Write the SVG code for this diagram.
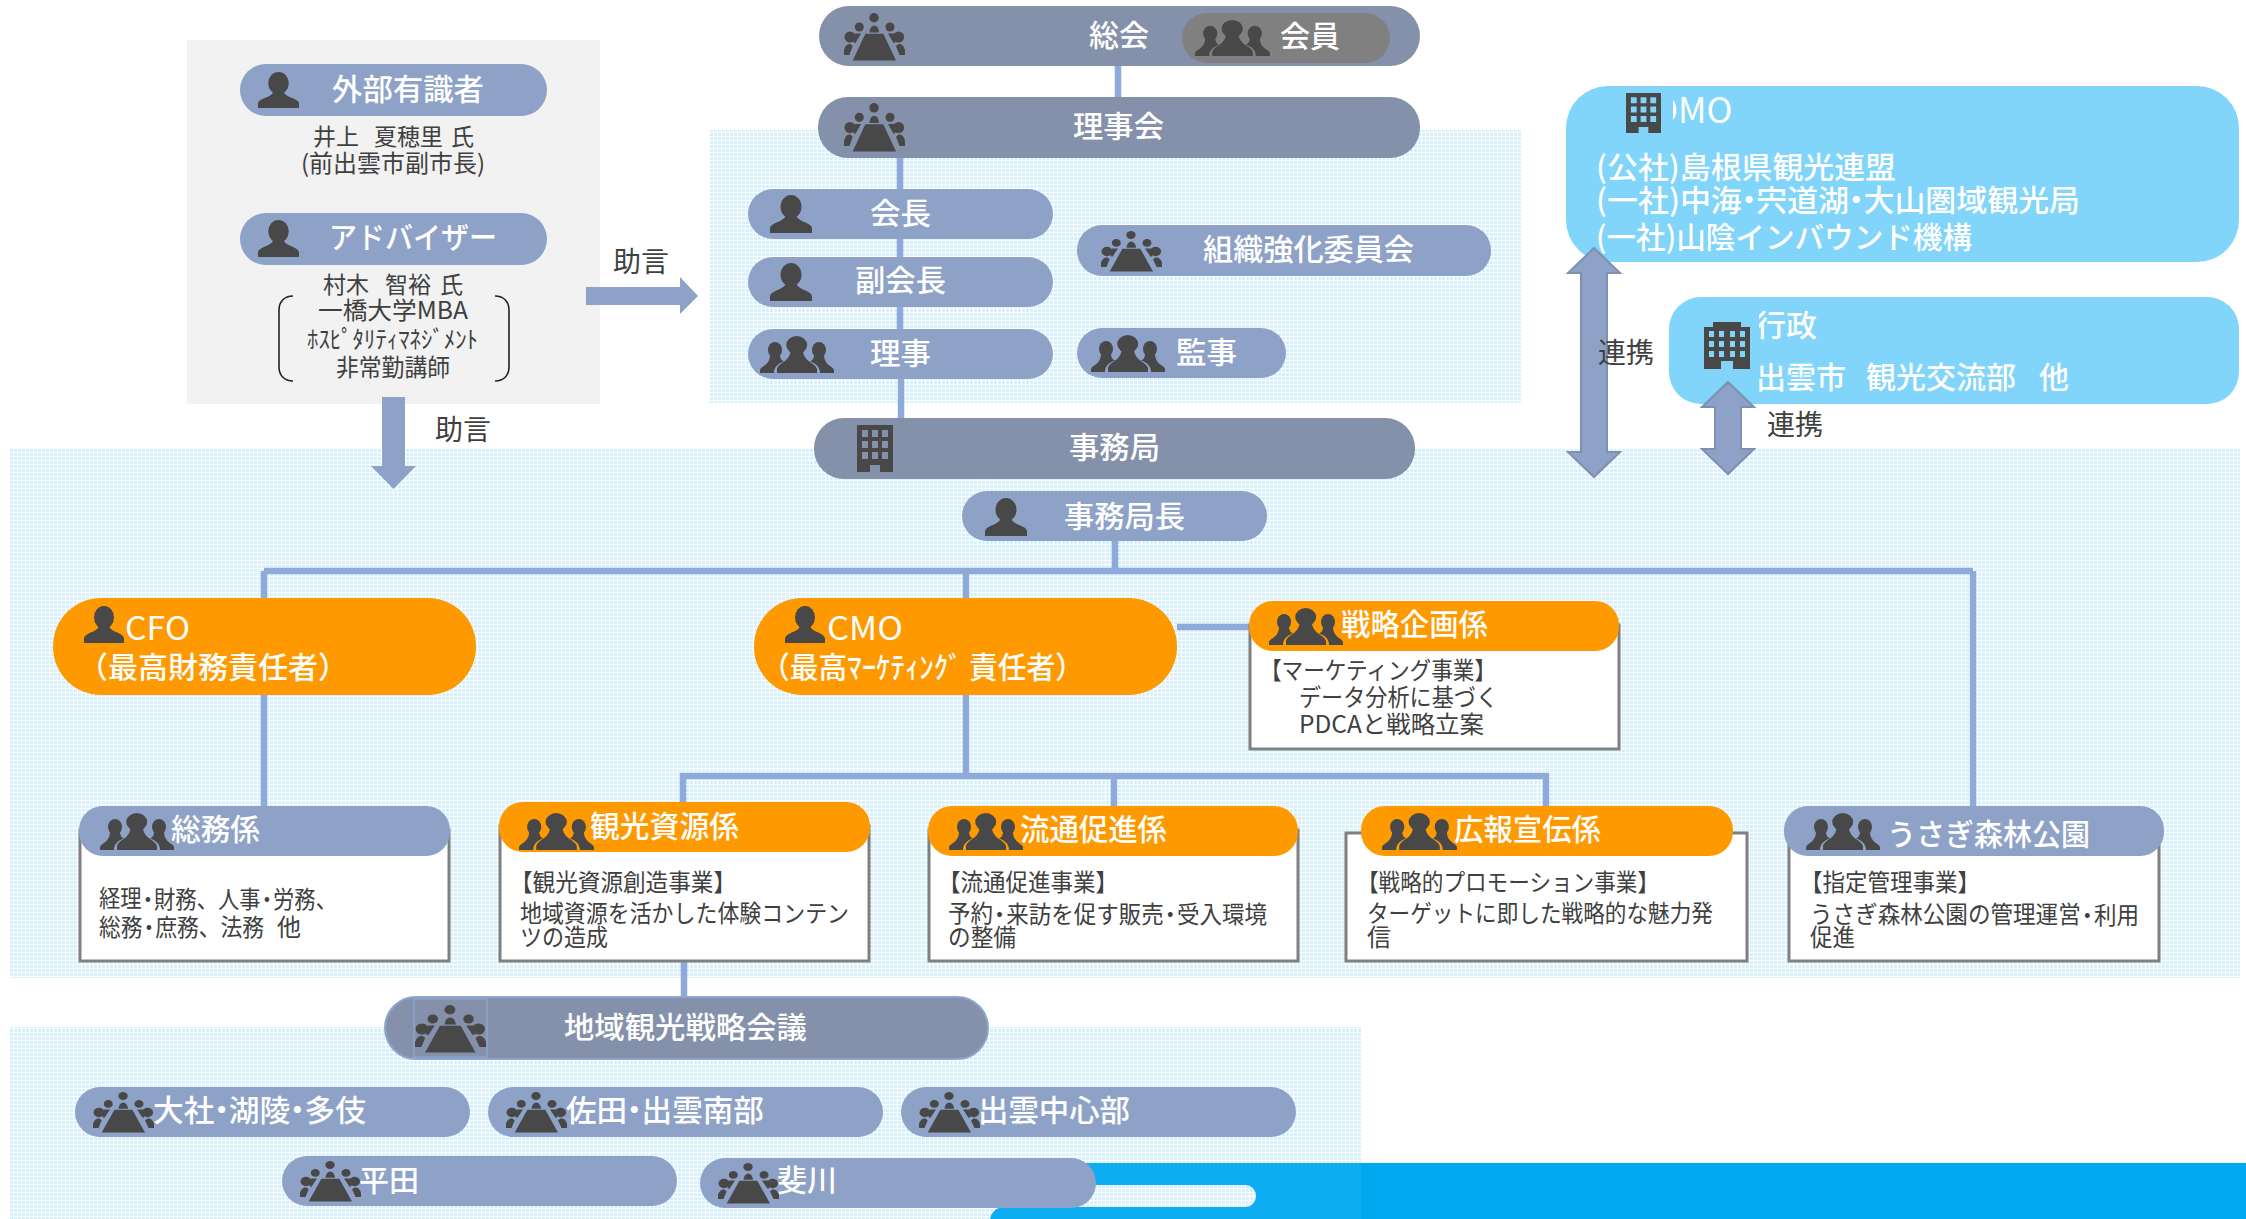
<svg xmlns="http://www.w3.org/2000/svg" width="2246" height="1219" viewBox="0 0 2246 1219">
<style>
text{font-family:"Noto Sans CJK JP","Noto Sans",sans-serif;dominant-baseline:central;transform:translateY(-2.5px)}
.w{fill:#fff;font-size:30px;font-weight:500}
.d{fill:#404040;font-size:24px}
.g{font-size:23px}
.l{fill:#404040;font-size:28px}
.lat{font-weight:400}
.ic{fill:#484848}
.pa{fill:#8591aa}
.pb{fill:#8ea2c8}
.po{fill:#ff9900}
.lb{fill:#81d4fa}
.bx{fill:#fff;stroke:#808080;stroke-width:3}
.cn{fill:none;stroke:#8eaadb;stroke-width:6.5}
.ar{fill:#8ea2c8}
.ad{fill:#8ea2c8;stroke:#7f8fae;stroke-width:2}
.br{fill:none;stroke:#222;stroke-width:1.6}
</style>
<defs>
<pattern id="dots" width="4" height="4" patternUnits="userSpaceOnUse" x="10" y="1">
<rect width="4" height="4" fill="#fff" fill-opacity=".06"/>
<rect width="3" height="3" fill="#00a8f0" fill-opacity=".17"/>
</pattern>
<symbol id="person" viewBox="0 0 100 100" preserveAspectRatio="none">
<ellipse cx="50" cy="31" rx="25" ry="31"/>
<path d="M0 100V87C2 72 30 72 37 56H63C70 72 98 72 100 87V100Z"/>
</symbol>
<symbol id="group" viewBox="0 0 74 37" preserveAspectRatio="none">
<ellipse cx="36.7" cy="9" rx="10.5" ry="9"/>
<path d="M17 37V33C18 27 29 26 30.500 16H43C44.500 26 55.500 27 57 33V37Z"/>
<ellipse cx="15" cy="14" rx="7" ry="8"/>
<path d="M0 37V34C1 30 9 30 10 20H20C20.500 23 22 25 24 25.500C18 27.500 14 31 14 37Z"/>
<ellipse cx="59" cy="14" rx="7" ry="8"/>
<path d="M74 37V34C73 30 65 30 64 20H54C53.500 23 52 25 50 25.500C56 27.500 60 31 60 37Z"/>
</symbol>
<symbol id="meet" viewBox="0 0 61 48" preserveAspectRatio="none">
<circle cx="30" cy="4.700" r="4.700"/>
<circle cx="15.300" cy="14" r="4.500"/>
<circle cx="46" cy="14" r="4.500"/>
<circle cx="6" cy="24" r="5.500"/>
<circle cx="54.600" cy="24" r="5.500"/>
<path d="M25.500 19.500a4.700 7 0 0 1 9.500 0Z"/>
<path d="M21.400 20.700H39.300L52 47.400H8.700Z"/>
<path d="M0 42V37C1 33 3 31 6 30.700L8.700 33L5.500 42Z"/>
<path d="M61 42V37C60 33 58 31 55 30.700L52 33L55.500 42Z"/>
<path d="M11 20.500L17 20.500L11.500 30L9.500 29.500Z"/>
<path d="M50 20.500L44 20.500L49.500 30L51.500 29.500Z"/>
</symbol>
<symbol id="bldg" viewBox="0 0 36 47" preserveAspectRatio="none">
<path fill-rule="evenodd" d="M0 0H36V47H23V40H13V47H0ZM5 5V12H11V5ZM15 5V12H21V5ZM25 5V12H31V5ZM5 16V23H11V16ZM15 16V23H21V16ZM25 16V23H31V16ZM5 27V34H11V27ZM15 27V34H21V27ZM25 27V34H31V27Z"/>
</symbol>
<symbol id="bldg2" viewBox="0 0 46 47" preserveAspectRatio="none">
<path fill-rule="evenodd" d="M0 47V5H9V0H37V5H46V47H29V39H17V47ZM5 9V15H10V9ZM15 9V15H20V9ZM26 9V15H31V9ZM36 9V15H41V9ZM5 19V25H10V19ZM15 19V25H20V19ZM26 19V25H31V19ZM36 19V25H41V19ZM5 29V35H10V29ZM15 29V35H20V29ZM26 29V35H31V29ZM36 29V35H41V29Z"/>
</symbol>
</defs>

<g id="background">
<rect x="187" y="40" width="413" height="364" fill="#f2f2f2"/>
<rect x="1050" y="1163" width="1196" height="56" fill="#00a8f0"/>
<rect x="1000" y="1185" width="256" height="22" rx="11" fill="#fff"/>
<rect x="990" y="1207" width="400" height="30" rx="14" fill="#00a8f0"/>
<rect x="710" y="130" width="811" height="273" fill="url(#dots)"/>
<rect x="10" y="449" width="2230" height="529" fill="url(#dots)"/>
<rect x="10" y="1027" width="1351" height="192" fill="url(#dots)"/>
</g>

<g id="n-dmo">
<rect class="lb" x="1566" y="86" width="673" height="176" rx="42"/>
<text class="w lat" x="1654" y="110" style="font-size:35px">DMO</text>
<rect class="lb" x="1620" y="88" width="53" height="48"/>
<use class="ic" href="#bldg" x="1626" y="93" width="35" height="40"/>
<text class="w" x="1596" y="167" textLength="300" lengthAdjust="spacingAndGlyphs">(公社)島根県観光連盟</text>
<text class="w" x="1596" y="200" textLength="484" lengthAdjust="spacingAndGlyphs">(一社)中海<tspan dx="-8">・</tspan><tspan dx="-8">宍道湖</tspan><tspan dx="-8">・</tspan><tspan dx="-8">大山圏域観光局</tspan></text>
<text class="w" x="1596" y="237" textLength="376" lengthAdjust="spacingAndGlyphs">(一社)山陰インバウンド機構</text>
</g>
<g id="n-gyosei">
<rect class="lb" x="1669" y="297" width="570" height="107" rx="32"/>
<text class="w" x="1755" y="325" textLength="62" lengthAdjust="spacingAndGlyphs">行政</text>
<rect class="lb" x="1699" y="312" width="60" height="60"/>
<use class="ic" href="#bldg2" x="1704" y="322" width="46" height="47"/>
<text class="w" y="377"><tspan x="1756">出雲市 </tspan><tspan x="1866">観光交流部 </tspan><tspan x="2039">他</tspan></text>
</g>

<g id="connectors">
<path class="cn" d="M1118 66V97"/>
<path class="cn" d="M900 158V189M900 239V257M900 307V329M901 379V418"/>
<path class="cn" d="M1115 541V571M264 571H1973M264 571V806M966 571V776M1973 571V806"/>
<path class="cn" d="M1177 627H1250"/>
<path class="cn" d="M683 805V776H1546V806M1114 776V806M684 962V997"/>
<polygon class="ar" points="586,287 680,287 680,277 698,296 680,314 680,305 586,305"/>
<polygon class="ar" points="382,397 405,397 405,466 416,466 393.5,489 371,466 382,466"/>
<polygon class="ad" points="1594,248 1620,273 1607,273 1607,452 1620,452 1594,477 1568,452 1581,452 1581,273 1568,273"/>
<polygon class="ad" points="1728,382 1754,407 1741,407 1741,449 1754,449 1728,474 1702,449 1715,449 1715,407 1702,407"/>
<text class="l" x="613" y="262" textLength="56" lengthAdjust="spacingAndGlyphs">助言</text>
<text class="l" x="435" y="430" textLength="56" lengthAdjust="spacingAndGlyphs">助言</text>
<text class="l" x="1598" y="353" textLength="56" lengthAdjust="spacingAndGlyphs">連携</text>
<text class="l" x="1767" y="425" textLength="56" lengthAdjust="spacingAndGlyphs">連携</text>
</g>

<g id="n-gaibu">
<rect class="pb" x="240" y="64" width="307" height="52" rx="26"/>
<use class="ic" href="#person" x="258" y="72" width="41" height="36"/>
<text class="w" x="332" y="89" textLength="152" lengthAdjust="spacingAndGlyphs">外部有識者</text>
<text class="d g" y="137"><tspan x="313">井上 </tspan><tspan x="374">夏穂里 </tspan><tspan x="451">氏</tspan></text>
<text class="d" x="301" y="164" textLength="184" lengthAdjust="spacingAndGlyphs">(前出雲市副市長)</text>
</g>
<g id="n-advisor">
<rect class="pb" x="240" y="213" width="307" height="52" rx="26"/>
<use class="ic" href="#person" x="258" y="220" width="41" height="37"/>
<text class="w" x="329" y="237" textLength="168" lengthAdjust="spacingAndGlyphs">アドバイザー</text>
<text class="d g" y="285"><tspan x="323">村木 </tspan><tspan x="385">智裕 </tspan><tspan x="440">氏</tspan></text>
<text class="d" x="318" y="311" textLength="150" lengthAdjust="spacingAndGlyphs">一橋大学MBA</text>
<text class="d" x="307" y="340" textLength="171" lengthAdjust="spacingAndGlyphs">ﾎｽﾋﾟﾀﾘﾃｨﾏﾈｼﾞﾒﾝﾄ</text>
<text class="d" x="336" y="368" textLength="114" lengthAdjust="spacingAndGlyphs">非常勤講師</text>
<path class="br" d="M293 296C284 296 279 302 279 310V367C279 375 284 381 293 381M495 296C504 296 509 302 509 310V367C509 375 504 381 495 381"/>
</g>

<g id="n-sokai">
<rect class="pa" x="819" y="6" width="601" height="60" rx="30"/>
<use class="ic" href="#meet" x="844" y="13" width="61" height="48"/>
<text class="w" x="1089" y="35" textLength="60" lengthAdjust="spacingAndGlyphs">総会</text>
<rect x="1182" y="13" width="208" height="50" rx="25" fill="#808080"/>
<use class="ic" href="#group" x="1195" y="20" width="75" height="36"/>
<text class="w" x="1280" y="36" textLength="60" lengthAdjust="spacingAndGlyphs">会員</text>
</g>
<g id="n-rijikai">
<rect class="pa" x="818" y="97" width="602" height="61" rx="30"/>
<use class="ic" href="#meet" x="844" y="103" width="61" height="49"/>
<text class="w" x="1073" y="126" textLength="91" lengthAdjust="spacingAndGlyphs">理事会</text>
</g>
<g id="n-kaicho">
<rect class="pb" x="748" y="189" width="305" height="50" rx="25"/>
<use class="ic" href="#person" x="770" y="195" width="42" height="38"/>
<text class="w" x="870" y="213" textLength="61" lengthAdjust="spacingAndGlyphs">会長</text>
</g>
<g id="n-fukukaicho">
<rect class="pb" x="748" y="257" width="305" height="50" rx="25"/>
<use class="ic" href="#person" x="770" y="263" width="42" height="38"/>
<text class="w" x="855" y="280" textLength="91" lengthAdjust="spacingAndGlyphs">副会長</text>
</g>
<g id="n-riji">
<rect class="pb" x="748" y="329" width="305" height="50" rx="25"/>
<use class="ic" href="#group" x="760" y="336" width="74" height="37"/>
<text class="w" x="870" y="353" textLength="61" lengthAdjust="spacingAndGlyphs">理事</text>
</g>
<g id="n-soshiki">
<rect class="pb" x="1077" y="225" width="414" height="51" rx="25"/>
<use class="ic" href="#meet" x="1101" y="231" width="61" height="41"/>
<text class="w" x="1203" y="249" textLength="211" lengthAdjust="spacingAndGlyphs">組織強化委員会</text>
</g>
<g id="n-kanji">
<rect class="pb" x="1077" y="328" width="209" height="50" rx="25"/>
<use class="ic" href="#group" x="1091" y="335" width="74" height="37"/>
<text class="w" x="1176" y="352" textLength="61" lengthAdjust="spacingAndGlyphs">監事</text>
</g>
<g id="n-jimukyoku">
<rect class="pa" x="814" y="418" width="601" height="61" rx="30"/>
<use class="ic" href="#bldg" x="857" y="425" width="36" height="47"/>
<text class="w" x="1069" y="447" textLength="91" lengthAdjust="spacingAndGlyphs">事務局</text>
</g>
<g id="n-jimukyokucho">
<rect class="pb" x="962" y="491" width="305" height="50" rx="25"/>
<use class="ic" href="#person" x="985" y="498" width="42" height="38"/>
<text class="w" x="1064" y="516" textLength="121" lengthAdjust="spacingAndGlyphs">事務局長</text>
</g>

<g id="n-cfo">
<rect class="po" x="53" y="598" width="423" height="97" rx="48"/>
<use class="ic" href="#person" x="84" y="606" width="40" height="37"/>
<text class="w lat" x="125" y="628" textLength="65" lengthAdjust="spacingAndGlyphs" style="font-size:32px">CFO</text>
<text class="w" x="78" y="667">（最高財務責任者）</text>
</g>
<g id="n-cmo">
<rect class="po" x="754" y="598" width="423" height="97" rx="48"/>
<use class="ic" href="#person" x="785" y="606" width="40" height="37"/>
<text class="w lat" x="827" y="628" textLength="76" lengthAdjust="spacingAndGlyphs" style="font-size:32px">CMO</text>
<text class="w" x="761" y="667" textLength="323" lengthAdjust="spacingAndGlyphs">（最高ﾏｰｹﾃｨﾝｸﾞ 責任者）</text>
</g>
<g id="n-senryaku">
<rect class="bx" x="1250" y="625" width="369" height="124"/>
<rect class="po" x="1249" y="601" width="370" height="50" rx="24"/>
<use class="ic" href="#group" x="1269" y="608" width="74" height="37"/>
<text class="w" x="1341" y="624" textLength="147" lengthAdjust="spacingAndGlyphs">戦略企画係</text>
<text class="d" x="1260" y="671" textLength="236" lengthAdjust="spacingAndGlyphs">【マーケティング事業】</text>
<text class="d" x="1299" y="698" textLength="199" lengthAdjust="spacingAndGlyphs">データ分析に基づく</text>
<text class="d" x="1299" y="725" textLength="185" lengthAdjust="spacingAndGlyphs">PDCAと戦略立案</text>
</g>
<g id="n-somu">
<rect class="bx" x="80" y="830" width="369" height="131"/>
<rect class="pb" x="79" y="806" width="371" height="50" rx="24"/>
<use class="ic" href="#group" x="100" y="813" width="74" height="37"/>
<text class="w" x="171" y="829" textLength="89" lengthAdjust="spacingAndGlyphs">総務係</text>
<text class="d" x="99" y="899" textLength="238" lengthAdjust="spacingAndGlyphs">経理<tspan dx="-5">・</tspan><tspan dx="-5">財務、人事</tspan><tspan dx="-5">・</tspan><tspan dx="-5">労務、</tspan></text>
<text class="d" y="927"><tspan x="99" textLength="170" lengthAdjust="spacingAndGlyphs">総務<tspan dx="-5">・</tspan><tspan dx="-5">庶務、法務 </tspan></tspan><tspan x="277">他</tspan></text>
</g>
<g id="n-kanko">
<rect class="bx" x="500" y="826" width="369" height="135"/>
<rect class="po" x="499" y="802" width="371" height="50" rx="24"/>
<use class="ic" href="#group" x="519" y="813" width="75" height="37"/>
<text class="w" x="590" y="826" textLength="149" lengthAdjust="spacingAndGlyphs">観光資源係</text>
<text class="d" x="510" y="883" textLength="226" lengthAdjust="spacingAndGlyphs">【観光資源創造事業】</text>
<text class="d" x="520" y="914" textLength="329" lengthAdjust="spacingAndGlyphs">地域資源を活かした体験コンテン</text>
<text class="d" x="520" y="938" textLength="88" lengthAdjust="spacingAndGlyphs">ツの造成</text>
</g>
<g id="n-ryutsu">
<rect class="bx" x="929" y="830" width="369" height="131"/>
<rect class="po" x="928" y="806" width="370" height="50" rx="24"/>
<use class="ic" href="#group" x="949" y="813" width="74" height="37"/>
<text class="w" x="1020" y="829" textLength="147" lengthAdjust="spacingAndGlyphs">流通促進係</text>
<text class="d" x="938" y="883" textLength="180" lengthAdjust="spacingAndGlyphs">【流通促進事業】</text>
<text class="d" x="948" y="914" textLength="319" lengthAdjust="spacingAndGlyphs">予約<tspan dx="-5">・</tspan><tspan dx="-5">来訪を促す販売</tspan><tspan dx="-5">・</tspan><tspan dx="-5">受入環境</tspan></text>
<text class="d" x="948" y="938" textLength="68" lengthAdjust="spacingAndGlyphs">の整備</text>
</g>
<g id="n-koho">
<rect class="bx" x="1346" y="833" width="401" height="128"/>
<rect class="po" x="1361" y="806" width="372" height="50" rx="24"/>
<use class="ic" href="#group" x="1382" y="813" width="75" height="37"/>
<text class="w" x="1454" y="829" textLength="147" lengthAdjust="spacingAndGlyphs">広報宣伝係</text>
<text class="d" x="1357" y="883" textLength="302" lengthAdjust="spacingAndGlyphs">【戦略的プロモーション事業】</text>
<text class="d" x="1367" y="914" textLength="346" lengthAdjust="spacingAndGlyphs">ターゲットに即した戦略的な魅力発</text>
<text class="d" x="1367" y="938">信</text>
</g>
<g id="n-usagi">
<rect class="bx" x="1789" y="830" width="370" height="131"/>
<rect class="pb" x="1784" y="806" width="380" height="50" rx="24"/>
<use class="ic" href="#group" x="1806" y="813" width="74" height="37"/>
<text class="w" x="1887" y="834" textLength="203" lengthAdjust="spacingAndGlyphs">うさぎ森林公園</text>
<text class="d" x="1800" y="883" textLength="180" lengthAdjust="spacingAndGlyphs">【指定管理事業】</text>
<text class="d" x="1810" y="915" textLength="329" lengthAdjust="spacingAndGlyphs">うさぎ森林公園の管理運営<tspan dx="-5">・</tspan><tspan dx="-5">利用</tspan></text>
<text class="d" x="1810" y="938" textLength="45" lengthAdjust="spacingAndGlyphs">促進</text>
</g>

<g id="n-chiiki">
<rect class="pa" x="385" y="997" width="603" height="62" rx="31" stroke="#8ea5cc" stroke-width="2"/>
<rect x="414" y="999" width="73" height="58" fill="none" stroke="#8ea5cc" stroke-width="1.5"/>
<use class="ic" href="#meet" x="415" y="1005" width="71" height="48"/>
<text class="w" x="564" y="1027" textLength="243" lengthAdjust="spacingAndGlyphs">地域観光戦略会議</text>
</g>
<g id="n-taisha">
<rect class="pb" x="75" y="1087" width="395" height="50" rx="25"/>
<use class="ic" href="#meet" x="93" y="1092" width="61" height="41"/>
<text class="w" x="153" y="1110" textLength="213" lengthAdjust="spacingAndGlyphs">大社<tspan dx="-8">・</tspan><tspan dx="-8">湖陵</tspan><tspan dx="-8">・</tspan><tspan dx="-8">多伎</tspan></text>
</g>
<g id="n-sada">
<rect class="pb" x="488" y="1087" width="395" height="50" rx="25"/>
<use class="ic" href="#meet" x="506" y="1092" width="61" height="41"/>
<text class="w" x="566" y="1110" textLength="198" lengthAdjust="spacingAndGlyphs">佐田<tspan dx="-8">・</tspan><tspan dx="-8">出雲南部</tspan></text>
</g>
<g id="n-izumo">
<rect class="pb" x="901" y="1087" width="395" height="50" rx="25"/>
<use class="ic" href="#meet" x="919" y="1092" width="61" height="41"/>
<text class="w" x="978" y="1110" textLength="152" lengthAdjust="spacingAndGlyphs">出雲中心部</text>
</g>
<g id="n-hirata">
<rect class="pb" x="282" y="1156" width="395" height="50" rx="25"/>
<use class="ic" href="#meet" x="300" y="1161" width="61" height="41"/>
<text class="w" x="359" y="1180" textLength="60" lengthAdjust="spacingAndGlyphs">平田</text>
</g>
<g id="n-hikawa">
<rect class="pb" x="700" y="1158" width="396" height="50" rx="25"/>
<use class="ic" href="#meet" x="718" y="1163" width="61" height="41"/>
<text class="w" x="777" y="1180" textLength="60" lengthAdjust="spacingAndGlyphs">斐川</text>
</g>
</svg>
